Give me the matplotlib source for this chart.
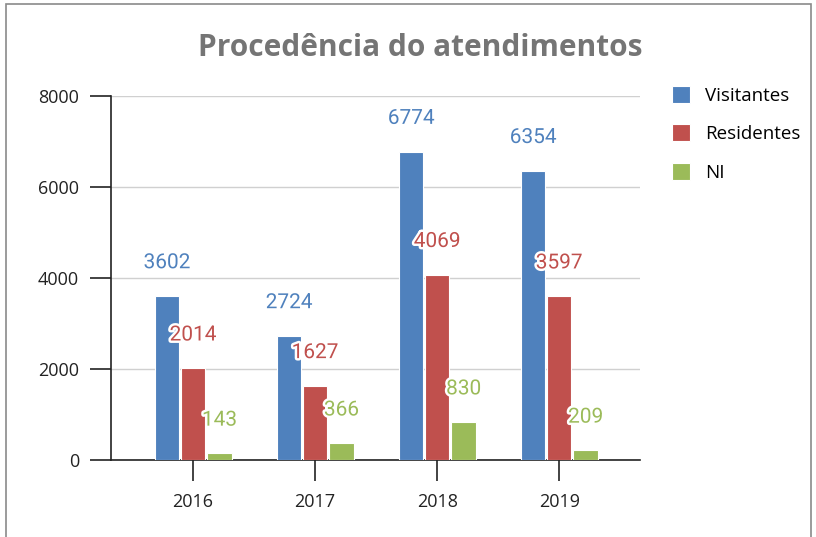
import matplotlib
matplotlib.use('Agg')
import matplotlib.pyplot as plt
import matplotlib.patheffects as pe
from matplotlib.patches import Rectangle
import numpy as np

# data
anos = ['2016', '2017', '2018', '2019']
visitantes = [3602, 2724, 6774, 6354]
residentes = [2014, 1627, 4069, 3597]
ni = [143, 366, 830, 209]

series = [('Visitantes', visitantes, '#4F81BD'),
          ('Residentes', residentes, '#C0504D'),
          ('NI', ni, '#9BBB59')]

fig = plt.figure(figsize=(8.16, 5.37), dpi=100)
ax = fig.add_axes([0.136, 0.1434, 0.648, 0.678])

# thin frame around the picture
fig.patches.append(Rectangle((6/816, -0.1), (811-6)/816, 1.1 - 4/537, transform=fig.transFigure,
                             fill=False, edgecolor='#8a8a8a', linewidth=1.2))

x = np.arange(len(anos))
w = 0.2
offs = [-0.213, 0.0, 0.217]
handles = []
for (nome, vals, cor), off in zip(series, offs):
    b = ax.bar(x + off, vals, width=w, color=cor, edgecolor='white', linewidth=0.8, label=nome, zorder=3)
    handles.append(b)
    for xi, v in zip(x + off, vals):
        ax.annotate(str(v), (xi, v), xytext=(0, 24), textcoords='offset points',
                    ha='center', va='center', fontsize=15, color=cor, family='Roboto',
                    path_effects=[pe.withStroke(linewidth=3.5, foreground='white')], zorder=5)

ax.set_xlim(-0.672, 3.66)
ax.set_ylim(0, 8000)
ax.set_yticks([0, 2000, 4000, 6000, 8000])
ax.set_xticks(x)
ax.set_xticklabels(anos)
ax.grid(axis='y', color='#d0d0d0', linewidth=1, zorder=0)
for s in ['top', 'right']:
    ax.spines[s].set_visible(False)
ax.spines['left'].set_color('#222222')
ax.spines['bottom'].set_color('#222222')
ax.spines['left'].set_linewidth(1.2)
ax.spines['bottom'].set_linewidth(1.2)
ax.tick_params(axis='y', length=15, width=1.2, color='#222222', pad=8, labelsize=13, labelcolor='#222222')
ax.tick_params(axis='x', length=15, width=1.2, color='#222222', pad=9, labelsize=13, labelcolor='#222222')
for lab in ax.get_xticklabels() + ax.get_yticklabels():
    lab.set_family('Open Sans')

fig.text(0.515, 0.91, 'Procedência do atendimentos', ha='center', va='center',
         fontsize=21.5, fontweight='bold', color='#757575', family='Open Sans')

leg = fig.legend(handles=handles, loc='upper left', bbox_to_anchor=(0.814, 0.854), frameon=False,
                 handlelength=1.0, handleheight=1.0, labelspacing=1.05, handletextpad=0.8,
                 borderaxespad=0, prop={'family': 'Open Sans', 'size': 13.5})

fig.savefig('out.png', dpi=100)
